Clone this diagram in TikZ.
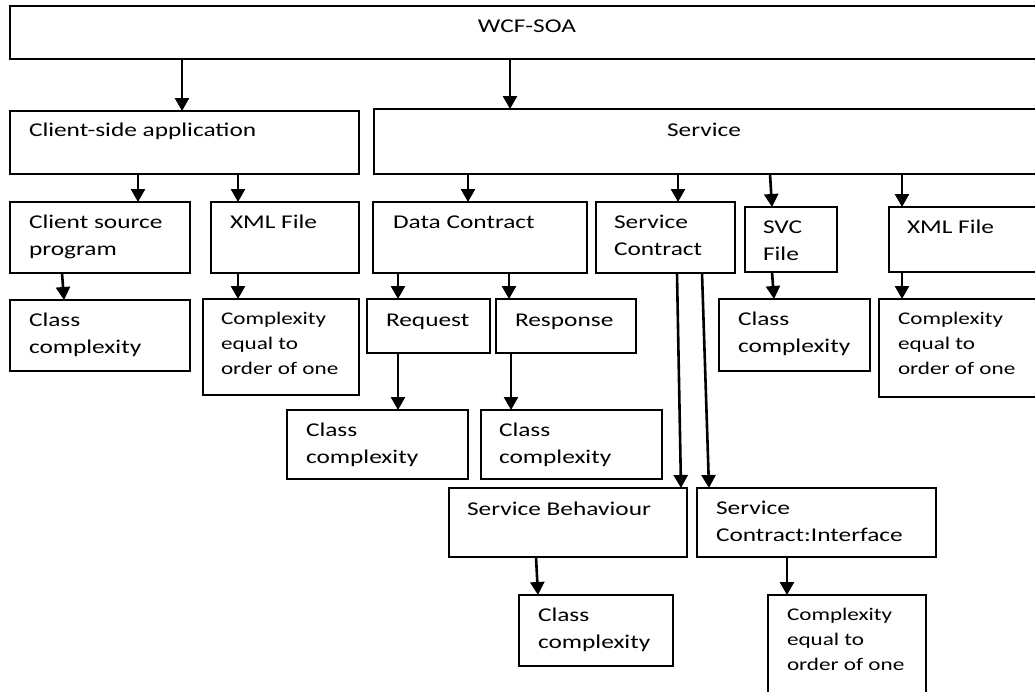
\documentclass[tikz,border=0pt]{standalone}
\usepackage{fontspec}
\setmainfont{Carlito}[FakeStretch=1.3]
\usetikzlibrary{arrows.meta}

\newcommand\bigtxt{\fontsize{19.5}{27}\selectfont}
\newcommand\smalltxt{\fontsize{17.8}{25}\selectfont}
\newcommand\topstrut{\rule{0pt}{16pt}}

\tikzset{
  box/.style={draw, line width=2.4pt, inner sep=0pt, outer sep=0pt, anchor=north west},
  txt/.style={inner sep=0pt, outer sep=0pt, anchor=north west, align=left, font=\bigtxt},
  stxt/.style={txt, font=\smalltxt},
  arr/.style={line width=2.6pt, -{Triangle[length=13pt,width=14pt]}},
}

\begin{document}
\begin{tikzpicture}[x=1pt, y=-1pt]
\useasboundingbox (0,0) rectangle (1035,691);
\clip (0,0) rectangle (1035,691);

% boxes
\node[box, minimum width=1040pt, minimum height=53pt] (wcf) at (10,6) {};
\node[box, minimum width=349pt, minimum height=63pt] (client) at (10,111) {};
\node[box, minimum width=680pt, minimum height=65pt] (service) at (374,109) {};

\node[box, minimum width=180pt, minimum height=71pt] (csp) at (10,202) {};
\node[box, minimum width=148pt, minimum height=71pt] (xmlL) at (211,202) {};
\node[box, minimum width=214pt, minimum height=71pt] (dc) at (373,202) {};
\node[box, minimum width=139pt, minimum height=71pt] (sc) at (596,202) {};
\node[box, minimum width=92pt, minimum height=65pt] (svc) at (745,207) {};
\node[box, minimum width=160pt, minimum height=65pt] (xmlR) at (889,207) {};

\node[box, minimum width=180pt, minimum height=71pt] (ccL) at (10,300) {};
\node[box, minimum width=156pt, minimum height=96pt] (cxL) at (203,299) {};
\node[box, minimum width=123pt, minimum height=54pt] (req) at (367,299) {};
\node[box, minimum width=140pt, minimum height=54pt] (resp) at (496,299) {};
\node[box, minimum width=151pt, minimum height=72pt] (ccSvc) at (719,299) {};
\node[box, minimum width=170pt, minimum height=98pt] (cxR) at (879,299) {};

\node[box, minimum width=181pt, minimum height=69pt] (ccReq) at (287,410) {};
\node[box, minimum width=181pt, minimum height=69pt] (ccResp) at (481,410) {};

\node[box, minimum width=238pt, minimum height=69pt] (sb) at (449,488) {};
\node[box, minimum width=239pt, minimum height=69pt] (sci) at (697,488) {};

\node[box, minimum width=154pt, minimum height=71pt] (ccSb) at (519,595) {};
\node[box, minimum width=158pt, minimum height=110pt] (cxSci) at (768,595) {};

% labels
\node[txt, anchor=base] (wcfT) at (527,32) {WCF-SOA};
\node[txt, anchor=base west] (clientT) at (29,136) {Client-side application};
\node[txt, anchor=base] (serviceT) at (704,136) {Service};

\node[txt] (cspT) at ([shift={(19pt,-10pt)}]csp.north west) {\topstrut Client source\\program};
\node[txt] (xmlLT) at ([shift={(19pt,-10pt)}]xmlL.north west) {\topstrut XML File};
\node[txt] (dcT) at ([shift={(20pt,-10pt)}]dc.north west) {\topstrut Data Contract};
\node[txt] (scT) at ([shift={(18pt,-10pt)}]sc.north west) {\topstrut Service\\Contract};
\node[txt] (svcT) at ([shift={(18pt,-10pt)}]svc.north west) {\topstrut SVC\\File};
\node[txt] (xmlRT) at ([shift={(18pt,-10pt)}]xmlR.north west) {\topstrut XML File};

\node[txt] (ccLT) at ([shift={(19pt,-10pt)}]ccL.north west) {\topstrut Class\\complexity};
\node[stxt] (cxLT) at ([shift={(18pt,-9pt)}]cxL.north west) {\topstrut Complexity\\equal to\\order of one};
\node[txt] (reqT) at ([shift={(19pt,-11pt)}]req.north west) {\topstrut Request};
\node[txt] (respT) at ([shift={(19pt,-11pt)}]resp.north west) {\topstrut Response};
\node[txt] (ccSvcT) at ([shift={(19pt,-10pt)}]ccSvc.north west) {\topstrut Class\\complexity};
\node[stxt] (cxRT) at ([shift={(19pt,-9pt)}]cxR.north west) {\topstrut Complexity\\equal to\\order of one};

\node[txt] (ccReqT) at ([shift={(19pt,-10pt)}]ccReq.north west) {\topstrut Class\\complexity};
\node[txt] (ccRespT) at ([shift={(18pt,-10pt)}]ccResp.north west) {\topstrut Class\\complexity};

\node[txt] (sbT) at ([shift={(18pt,-11pt)}]sb.north west) {\topstrut Service Behaviour};
\node[txt] (sciT) at ([shift={(19pt,-10pt)}]sci.north west) {\topstrut Service\\Contract:Interface};

\node[txt] (ccSbT) at ([shift={(19pt,-10pt)}]ccSb.north west) {\topstrut Class\\complexity};
\node[stxt] (cxSciT) at ([shift={(19pt,-9pt)}]cxSci.north west) {\topstrut Complexity\\equal to\\order of one};

% connectors
\draw[arr] (wcf.south -| 182,0) -- (client.north -| 182,0);
\draw[arr] (wcf.south -| 510,0) -- (service.north -| 510,0);

\draw[arr] (client.south -| 138,0) -- (csp.north -| 138,0);
\draw[arr] (client.south -| 238,0) -- (xmlL.north -| 238,0);

\draw[arr] (service.south -| 468,0) -- (dc.north -| 468,0);
\draw[arr] (service.south -| 678,0) -- (sc.north -| 678,0);
\draw[arr] (service.south -| 770,0) -- (svc.north -| 772,0);
\draw[arr] (service.south -| 902,0) -- (xmlR.north -| 902,0);

\draw[arr] (csp.south -| 62,0) -- (ccL.north -| 64,0);
\draw[arr] (xmlL.south -| 238,0) -- (cxL.north -| 238,0);
\draw[arr] (dc.south -| 398,0) -- (req.north -| 398,0);
\draw[arr] (dc.south -| 509,0) -- (resp.north -| 509,0);
\draw[arr] (svc.south -| 772,0) -- (ccSvc.north -| 774,0);
\draw[arr] (xmlR.south -| 902,0) -- (cxR.north -| 902,0);

\draw[arr] (sc.south -| 677,0) -- (sb.north -| 681,0);
\draw[arr] (sc.south -| 702,0) -- (sci.north -| 709,0);

\draw[arr] (req.south -| 398,0) -- (ccReq.north -| 398,0);
\draw[arr] (resp.south -| 511,0) -- (ccResp.north -| 511,0);

\draw[arr] (sb.south -| 536,0) -- (ccSb.north -| 538,0);
\draw[arr] (sci.south -| 787,0) -- (cxSci.north -| 787,0);
\end{tikzpicture}
\end{document}
